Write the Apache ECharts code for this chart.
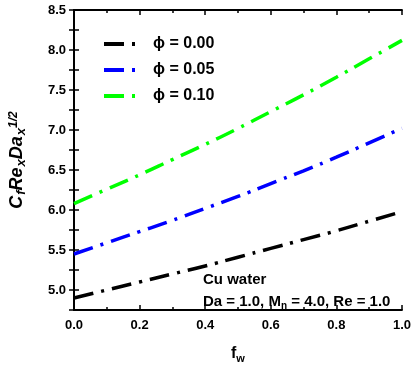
<!DOCTYPE html>
<html>
<head>
<meta charset="utf-8">
<script src="https://cdn.jsdelivr.net/npm/echarts@6/dist/echarts.min.js"></script>
<style>
  html, body { margin: 0; padding: 0; background: #fff; }
  #chart { width: 414px; height: 369px; }
</style>
</head>
<body>
<div id="chart"></div>
<script>
// f_w values along the x axis
var fw = [0, 0.1, 0.2, 0.3, 0.4, 0.5, 0.6, 0.7, 0.8, 0.9, 1.0]
// skin friction for each nanoparticle volume fraction
var phi000 = [4.90, 5.00, 5.10, 5.20, 5.30, 5.41, 5.52, 5.63, 5.74, 5.86, 5.98]
var phi005 = [5.45, 5.59, 5.73, 5.87, 6.02, 6.17, 6.33, 6.49, 6.66, 6.84, 7.02]
var phi010 = [6.08, 6.26, 6.44, 6.63, 6.82, 7.02, 7.23, 7.44, 7.66, 7.89, 8.12]
var seriesNames = ['\u03d5 = 0.00', '\u03d5 = 0.05', '\u03d5 = 0.10']
var seriesColors = ['#000000', '#0000ff', '#00ff00']

var font = 'Liberation Sans, Arial, sans-serif'
var chart = echarts.init(document.getElementById('chart'))

function pairs(ys) {
  return ys.map(function (y, i) { return [fw[i], y] })
}

var seriesData = [phi000, phi005, phi010].map(function (ys, i) {
  return {
    name: seriesNames[i],
    type: 'line',
    smooth: true,
    symbol: 'none',
    data: pairs(ys),
    lineStyle: { color: seriesColors[i], width: 3.5, type: [20, 8, 3, 8] },
    itemStyle: { color: seriesColors[i] }
  }
})

var axisBase = {
  axisLine: { lineStyle: { color: '#000', width: 2 } },
  axisTick: { inside: true, length: 5, lineStyle: { color: '#000', width: 1.5 } },
  splitLine: { show: false }
}

var labelStyle = { color: '#000', fontWeight: 'bold', fontSize: 13, fontFamily: font }

chart.setOption({
  animation: false,
  grid: { left: 62, right: 12, top: 10, bottom: 57 },
  legend: {
    orient: 'vertical',
    left: 97,
    top: 31,
    itemWidth: 36,
    itemHeight: 14,
    itemGap: 10,
    data: seriesNames,
    itemStyle: { opacity: 0 },
    lineStyle: { width: 4 },
    textStyle: { fontSize: 16, fontWeight: 'bold', fontFamily: font, color: '#000', padding: [0, 0, 0, 8] }
  },
  xAxis: [
    Object.assign({}, axisBase, {
      type: 'value',
      min: 0,
      max: 1,
      interval: 0.2,
      minorTick: { show: true, splitNumber: 2, length: 3, lineStyle: { color: '#000', width: 1.5 } },
      axisLabel: Object.assign({ margin: 9, formatter: function (v) { return v.toFixed(1) } }, labelStyle),
      name: 'f{sub|w}',
      nameLocation: 'middle',
      nameGap: 34,
      nameTextStyle: {
        fontSize: 16, fontWeight: 'bold', fontFamily: font, color: '#000',
        rich: { sub: { fontSize: 11, fontWeight: 'bold', fontFamily: font, padding: [9, 0, 0, 0] } }
      }
    }),
    Object.assign({}, axisBase, {
      type: 'value',
      position: 'top',
      min: 0,
      max: 1,
      interval: 0.2,
      minorTick: { show: true, splitNumber: 2, length: 3, lineStyle: { color: '#000', width: 1.5 } },
      axisLabel: { show: false }
    })
  ],
  yAxis: [
    Object.assign({}, axisBase, {
      type: 'value',
      min: 4.75,
      max: 8.5,
      interval: 0.25,
      axisLabel: Object.assign({
        margin: 8,
        formatter: function (v) {
          return Math.abs(v * 2 - Math.round(v * 2)) < 1e-6 ? v.toFixed(1) : ''
        }
      }, labelStyle),
      name: 'C{sub|f}Re{sub|x}Da{sub|x}{sup|1/2}',
      nameLocation: 'middle',
      nameGap: 46,
      nameTextStyle: {
        fontSize: 18, fontWeight: 'bold', fontStyle: 'italic', fontFamily: font, color: '#000',
        rich: {
          sub: { fontSize: 13, fontWeight: 'bold', fontStyle: 'italic', fontFamily: font, padding: [8, 0, 0, 1] },
          sup: { fontSize: 12, fontWeight: 'bold', fontStyle: 'italic', fontFamily: font, padding: [0, 0, 7, 0] }
        }
      }
    }),
    Object.assign({}, axisBase, {
      type: 'value',
      position: 'right',
      min: 4.75,
      max: 8.5,
      interval: 0.25,
      axisLabel: { show: false }
    })
  ],
  graphic: [
    {
      type: 'text',
      left: 203,
      top: 269,
      style: {
        text: 'Cu water\nDa = 1.0, M{sub|n} = 4.0, Re = 1.0',
        fontSize: 15,
        fontWeight: 'bold',
        fontFamily: font,
        fill: '#000',
        lineHeight: 22,
        rich: { sub: { fontSize: 10, fontWeight: 'bold', fontFamily: font, fill: '#000', padding: [8, 0, 0, 0] } }
      }
    }
  ],
  series: seriesData
})
</script>
</body>
</html>
